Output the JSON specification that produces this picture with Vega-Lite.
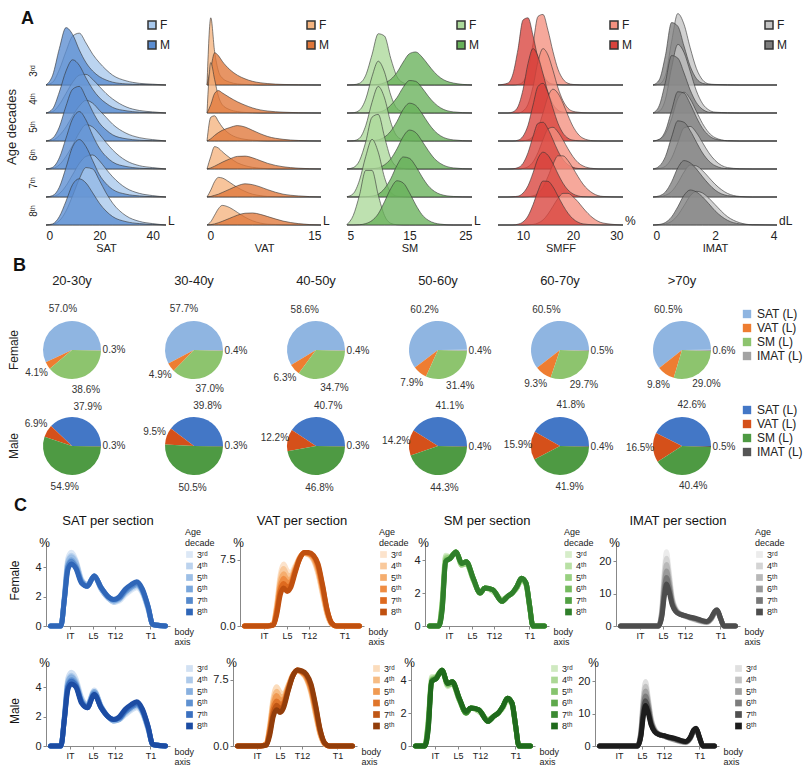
{
"$schema": "https://vega.github.io/schema/vega-lite/v6.json",
"background": "white",
"padding": {"left": 5, "right": 2, "top": 10, "bottom": 0},
"spacing": 4,
"align": "none",
"resolve": {"scale": {"color": "independent", "stroke": "independent", "x": "independent", "y": "independent"}, "legend": {"color": "independent"}},
"config": {
  "font": "Liberation Sans",
  "view": {"stroke": null},
  "axis": {"grid": false, "labelColor": "#222", "titleColor": "#222", "domainColor": "#888", "tickColor": "#888"},
  "axisY": {"labelOverlap": false},
  "header": {"labelColor": "#222", "titleColor": "#222", "labelFont": "Liberation Sans", "titleFont": "Liberation Sans"},
  "legend": {"labelColor": "#222", "titleColor": "#222", "labelFont": "Liberation Sans", "titleFont": "Liberation Sans"},
  "title": {"color": "#111", "font": "Liberation Sans"}
},
"datasets": {
"ridge": [
{"v":"SAT","a":"3ʳᵈ","s":"F","x":[0,2.5,5,7.5,10,12.5,15,17.5,20,22.5,25,30,35,40,45],"y":[0,0.1,0.55,1.2,1.75,1.85,1.5,1.1,0.8,0.55,0.35,0.15,0.06,0.03,0]},
{"v":"SAT","a":"3ʳᵈ","s":"M","x":[0,2.5,5,7.5,10,12.5,15,17.5,20,22.5,25,30,35,40,45],"y":[0,0.35,1.3,2.05,1.8,1.25,0.8,0.5,0.3,0.18,0.1,0.04,0.02,0.01,0]},
{"v":"SAT","a":"4ᵗʰ","s":"F","x":[0,2.5,5,7.5,10,12.5,15,17.5,20,22.5,25,30,35,40,45],"y":[0,0.05,0.3,0.7,1.1,1.35,1.38,1.2,0.95,0.7,0.5,0.22,0.09,0.04,0]},
{"v":"SAT","a":"4ᵗʰ","s":"M","x":[0,2.5,5,7.5,10,12.5,15,17.5,20,22.5,25,30,35,40,45],"y":[0,0.15,0.75,1.5,1.9,1.7,1.25,0.85,0.55,0.35,0.2,0.08,0.03,0.01,0]},
{"v":"SAT","a":"5ᵗʰ","s":"F","x":[0,2.5,5,7.5,10,12.5,15,17.5,20,22.5,25,30,35,40,45],"y":[0,0.03,0.2,0.5,0.9,1.25,1.45,1.35,1.1,0.85,0.6,0.28,0.12,0.05,0]},
{"v":"SAT","a":"5ᵗʰ","s":"M","x":[0,2.5,5,7.5,10,12.5,15,17.5,20,22.5,25,30,35,40,45],"y":[0,0.1,0.5,1.25,1.85,1.95,1.55,1.05,0.65,0.4,0.22,0.08,0.03,0.01,0]},
{"v":"SAT","a":"6ᵗʰ","s":"F","x":[0,2.5,5,7.5,10,12.5,15,17.5,20,22.5,25,30,35,40,45],"y":[0,0.02,0.15,0.45,0.85,1.3,1.58,1.5,1.25,0.95,0.68,0.3,0.12,0.05,0]},
{"v":"SAT","a":"6ᵗʰ","s":"M","x":[0,2.5,5,7.5,10,12.5,15,17.5,20,22.5,25,30,35,40,45],"y":[0,0.06,0.4,1.1,1.8,2.05,1.75,1.2,0.75,0.45,0.25,0.09,0.03,0.01,0]},
{"v":"SAT","a":"7ᵗʰ","s":"F","x":[0,2.5,5,7.5,10,12.5,15,17.5,20,22.5,25,30,35,40,45],"y":[0,0.02,0.12,0.4,0.8,1.2,1.45,1.5,1.3,1.0,0.72,0.32,0.13,0.05,0]},
{"v":"SAT","a":"7ᵗʰ","s":"M","x":[0,2.5,5,7.5,10,12.5,15,17.5,20,22.5,25,30,35,40,45],"y":[0,0.05,0.35,1.05,1.8,2.05,1.8,1.3,0.8,0.48,0.27,0.1,0.04,0.01,0]},
{"v":"SAT","a":"8ᵗʰ","s":"F","x":[0,2.5,5,7.5,10,12.5,15,17.5,20,22.5,25,30,35,40,45],"y":[0,0.02,0.15,0.5,1.05,1.65,2.05,2.0,1.6,1.15,0.78,0.33,0.13,0.05,0]},
{"v":"SAT","a":"8ᵗʰ","s":"M","x":[0,2.5,5,7.5,10,12.5,15,17.5,20,22.5,25,30,35,40,45],"y":[0,0.04,0.3,0.85,1.45,1.65,1.5,1.15,0.78,0.5,0.3,0.12,0.05,0.02,0]},
{"v":"VAT","a":"3ʳᵈ","s":"F","x":[0,0.5,1,1.5,2,3,4,5,6,7,8,10,12,15],"y":[0,2.4,1.2,0.5,0.25,0.1,0.04,0.02,0.01,0,0,0,0,0]},
{"v":"VAT","a":"3ʳᵈ","s":"M","x":[0,0.5,1,1.5,2,3,4,5,6,7,8,10,12,15],"y":[0,0.6,1.15,1.05,0.85,0.55,0.35,0.22,0.13,0.08,0.05,0.02,0.01,0]},
{"v":"VAT","a":"4ᵗʰ","s":"F","x":[0,0.5,1,1.5,2,3,4,5,6,7,8,10,12,15],"y":[0,1.8,1.2,0.6,0.3,0.12,0.05,0.02,0.01,0,0,0,0,0]},
{"v":"VAT","a":"4ᵗʰ","s":"M","x":[0,0.5,1,1.5,2,3,4,5,6,7,8,10,12,15],"y":[0,0.3,0.7,0.8,0.72,0.55,0.4,0.28,0.18,0.11,0.07,0.03,0.01,0]},
{"v":"VAT","a":"5ᵗʰ","s":"F","x":[0,0.5,1,1.5,2,3,4,5,6,7,8,10,12,15],"y":[0,0.85,0.9,0.7,0.5,0.25,0.12,0.06,0.03,0.01,0,0,0,0]},
{"v":"VAT","a":"5ᵗʰ","s":"M","x":[0,0.5,1,1.5,2,3,4,5,6,7,8,10,12,15],"y":[0,0.08,0.2,0.3,0.38,0.48,0.55,0.5,0.38,0.26,0.16,0.06,0.02,0]},
{"v":"VAT","a":"6ᵗʰ","s":"F","x":[0,0.5,1,1.5,2,3,4,5,6,7,8,10,12,15],"y":[0,0.45,0.8,0.75,0.62,0.4,0.22,0.12,0.06,0.03,0.01,0,0,0]},
{"v":"VAT","a":"6ᵗʰ","s":"M","x":[0,0.5,1,1.5,2,3,4,5,6,7,8,10,12,15],"y":[0,0.04,0.1,0.17,0.24,0.36,0.45,0.46,0.4,0.3,0.2,0.08,0.03,0]},
{"v":"VAT","a":"7ᵗʰ","s":"F","x":[0,0.5,1,1.5,2,3,4,5,6,7,8,10,12,15],"y":[0,0.25,0.55,0.7,0.68,0.52,0.34,0.2,0.1,0.05,0.02,0.01,0,0]},
{"v":"VAT","a":"7ᵗʰ","s":"M","x":[0,0.5,1,1.5,2,3,4,5,6,7,8,10,12,15],"y":[0,0.02,0.06,0.1,0.16,0.28,0.4,0.47,0.44,0.36,0.26,0.1,0.04,0]},
{"v":"VAT","a":"8ᵗʰ","s":"F","x":[0,0.5,1,1.5,2,3,4,5,6,7,8,10,12,15],"y":[0,0.12,0.35,0.58,0.7,0.62,0.45,0.28,0.15,0.07,0.03,0.01,0,0]},
{"v":"VAT","a":"8ᵗʰ","s":"M","x":[0,0.5,1,1.5,2,3,4,5,6,7,8,10,12,15],"y":[0,0.01,0.04,0.08,0.13,0.24,0.35,0.42,0.43,0.38,0.3,0.14,0.05,0]},
{"v":"SM","a":"3ʳᵈ","s":"F","x":[5,6,7,8,9,10,11,12,13,14,15,16,17,18,19,20,22,25],"y":[0,0.01,0.06,0.35,1.08,1.83,1.75,0.95,0.3,0.08,0.02,0.01,0,0,0,0,0,0]},
{"v":"SM","a":"3ʳᵈ","s":"M","x":[5,6,7,8,9,10,11,12,13,14,15,16,17,18,19,20,22,25],"y":[0,0,0,0,0.01,0.02,0.08,0.2,0.45,0.82,1.12,1.18,1.0,0.72,0.45,0.25,0.07,0]},
{"v":"SM","a":"4ᵗʰ","s":"F","x":[5,6,7,8,9,10,11,12,13,14,15,16,17,18,19,20,22,25],"y":[0,0.01,0.1,0.5,1.3,1.85,1.46,0.64,0.16,0.04,0.01,0,0,0,0,0,0,0]},
{"v":"SM","a":"4ᵗʰ","s":"M","x":[5,6,7,8,9,10,11,12,13,14,15,16,17,18,19,20,22,25],"y":[0,0,0,0,0.01,0.03,0.1,0.28,0.55,0.92,1.16,1.13,0.9,0.6,0.35,0.18,0.04,0]},
{"v":"SM","a":"5ᵗʰ","s":"F","x":[5,6,7,8,9,10,11,12,13,14,15,16,17,18,19,20,22,25],"y":[0,0.01,0.1,0.55,1.38,1.95,1.54,0.67,0.17,0.04,0.01,0,0,0,0,0,0,0]},
{"v":"SM","a":"5ᵗʰ","s":"M","x":[5,6,7,8,9,10,11,12,13,14,15,16,17,18,19,20,22,25],"y":[0,0,0,0,0.01,0.04,0.14,0.35,0.7,1.13,1.35,1.27,0.98,0.64,0.36,0.18,0.04,0]},
{"v":"SM","a":"6ᵗʰ","s":"F","x":[5,6,7,8,9,10,11,12,13,14,15,16,17,18,19,20,22,25],"y":[0,0.05,0.3,0.97,1.85,1.95,1.15,0.38,0.08,0.02,0,0,0,0,0,0,0,0]},
{"v":"SM","a":"6ᵗʰ","s":"M","x":[5,6,7,8,9,10,11,12,13,14,15,16,17,18,19,20,22,25],"y":[0,0,0,0,0.01,0.04,0.15,0.36,0.72,1.16,1.39,1.3,1.0,0.66,0.37,0.19,0.04,0]},
{"v":"SM","a":"7ᵗʰ","s":"F","x":[5,6,7,8,9,10,11,12,13,14,15,16,17,18,19,20,22,25],"y":[0.01,0.12,0.6,1.45,2.06,1.6,0.7,0.17,0.03,0.01,0,0,0,0,0,0,0,0]},
{"v":"SM","a":"7ᵗʰ","s":"M","x":[5,6,7,8,9,10,11,12,13,14,15,16,17,18,19,20,22,25],"y":[0,0,0,0.01,0.03,0.1,0.3,0.65,1.13,1.43,1.38,1.1,0.72,0.4,0.2,0.09,0.02,0]},
{"v":"SM","a":"8ᵗʰ","s":"F","x":[5,6,7,8,9,10,11,12,13,14,15,16,17,18,19,20,22,25],"y":[0.02,0.34,1.07,1.95,1.95,1.07,0.34,0.06,0.01,0,0,0,0,0,0,0,0,0]},
{"v":"SM","a":"8ᵗʰ","s":"M","x":[5,6,7,8,9,10,11,12,13,14,15,16,17,18,19,20,22,25],"y":[0,0,0.01,0.05,0.16,0.4,0.83,1.3,1.58,1.5,1.15,0.72,0.37,0.17,0.07,0.03,0,0]},
{"v":"SMFF","a":"3ʳᵈ","s":"F","x":[5,7,8,9,10,11,12,13,14,15,16,17,18,19,20,21,22,24,26,30],"y":[0,0,0,0.02,0.11,0.53,1.46,2.45,2.52,1.95,1.19,0.56,0.21,0.06,0.02,0.01,0,0,0,0]},
{"v":"SMFF","a":"3ʳᵈ","s":"M","x":[5,7,8,9,10,11,12,13,14,15,16,17,18,19,20,21,22,24,26,30],"y":[0,0.07,0.4,1.28,2.32,2.4,1.77,0.95,0.38,0.11,0.03,0.01,0,0,0,0,0,0,0,0]},
{"v":"SMFF","a":"4ᵗʰ","s":"F","x":[5,7,8,9,10,11,12,13,14,15,16,17,18,19,20,21,22,24,26,30],"y":[0,0,0,0,0.07,0.31,0.94,1.84,2.3,2.07,1.52,0.9,0.44,0.17,0.06,0.03,0.01,0,0,0]},
{"v":"SMFF","a":"4ᵗʰ","s":"M","x":[5,7,8,9,10,11,12,13,14,15,16,17,18,19,20,21,22,24,26,30],"y":[0,0,0.04,0.23,0.83,1.77,2.3,2.02,1.4,0.74,0.31,0.1,0.03,0.01,0,0,0,0,0,0]},
{"v":"SMFF","a":"5ᵗʰ","s":"F","x":[5,7,8,9,10,11,12,13,14,15,16,17,18,19,20,21,22,24,26,30],"y":[0,0,0,0,0.01,0.04,0.16,0.46,1.0,1.59,1.85,1.7,1.35,0.91,0.52,0.25,0.1,0.01,0,0]},
{"v":"SMFF","a":"5ᵗʰ","s":"M","x":[5,7,8,9,10,11,12,13,14,15,16,17,18,19,20,21,22,24,26,30],"y":[0,0,0,0.03,0.17,0.56,1.28,1.95,2.06,1.72,1.16,0.63,0.28,0.1,0.03,0.01,0,0,0,0]},
{"v":"SMFF","a":"6ᵗʰ","s":"F","x":[5,7,8,9,10,11,12,13,14,15,16,17,18,19,20,21,22,24,26,30],"y":[0,0,0,0,0.02,0.08,0.25,0.59,1.05,1.43,1.49,1.32,1.04,0.72,0.44,0.23,0.11,0.02,0,0]},
{"v":"SMFF","a":"6ᵗʰ","s":"M","x":[5,7,8,9,10,11,12,13,14,15,16,17,18,19,20,21,22,24,26,30],"y":[0,0,0.01,0.05,0.2,0.58,1.16,1.63,1.67,1.43,1.04,0.64,0.34,0.15,0.06,0.02,0.01,0,0,0]},
{"v":"SMFF","a":"7ᵗʰ","s":"F","x":[5,7,8,9,10,11,12,13,14,15,16,17,18,19,20,21,22,24,26,30],"y":[0,0,0,0,0,0.01,0.04,0.13,0.35,0.73,1.17,1.47,1.47,1.3,1.03,0.73,0.46,0.13,0.02,0]},
{"v":"SMFF","a":"7ᵗʰ","s":"M","x":[5,7,8,9,10,11,12,13,14,15,16,17,18,19,20,21,22,24,26,30],"y":[0,0,0.01,0.03,0.14,0.4,0.86,1.38,1.6,1.49,1.19,0.82,0.49,0.25,0.11,0.04,0.01,0,0,0]},
{"v":"SMFF","a":"8ᵗʰ","s":"F","x":[5,7,8,9,10,11,12,13,14,15,16,17,18,19,20,21,22,24,26,30],"y":[0,0,0,0,0,0.01,0.02,0.07,0.18,0.39,0.67,0.95,1.13,1.13,1.01,0.83,0.61,0.25,0.07,0]},
{"v":"SMFF","a":"8ᵗʰ","s":"M","x":[5,7,8,9,10,11,12,13,14,15,16,17,18,19,20,21,22,24,26,30],"y":[0,0,0,0.03,0.11,0.32,0.72,1.22,1.57,1.56,1.36,1.03,0.7,0.42,0.22,0.1,0.04,0.01,0,0]},
{"v":"IMAT","a":"3ʳᵈ","s":"F","x":[0,0.2,0.4,0.6,0.8,1,1.2,1.4,1.6,1.8,2,2.4,2.8,3.2,4],"y":[0,0.03,0.34,1.55,2.55,2.17,1.33,0.59,0.18,0.04,0.02,0.01,0,0,0]},
{"v":"IMAT","a":"3ʳᵈ","s":"M","x":[0,0.2,0.4,0.6,0.8,1,1.2,1.4,1.6,1.8,2,2.4,2.8,3.2,4],"y":[0,0.18,1.05,2.23,2.1,1.39,0.67,0.23,0.06,0.02,0.01,0,0,0,0]},
{"v":"IMAT","a":"4ᵗʰ","s":"F","x":[0,0.2,0.4,0.6,0.8,1,1.2,1.4,1.6,1.8,2,2.4,2.8,3.2,4],"y":[0,0.06,0.49,1.62,2.45,2.16,1.49,0.79,0.33,0.11,0.03,0.01,0,0,0]},
{"v":"IMAT","a":"4ᵗʰ","s":"M","x":[0,0.2,0.4,0.6,0.8,1,1.2,1.4,1.6,1.8,2,2.4,2.8,3.2,4],"y":[0,0.26,1.1,2.05,1.96,1.43,0.82,0.37,0.13,0.03,0.01,0,0,0,0]},
{"v":"IMAT","a":"5ᵗʰ","s":"F","x":[0,0.2,0.4,0.6,0.8,1,1.2,1.4,1.6,1.8,2,2.4,2.8,3.2,4],"y":[0,0.05,0.26,0.8,1.51,1.74,1.5,1.06,0.62,0.3,0.12,0.01,0,0,0]},
{"v":"IMAT","a":"5ᵗʰ","s":"M","x":[0,0.2,0.4,0.6,0.8,1,1.2,1.4,1.6,1.8,2,2.4,2.8,3.2,4],"y":[0,0.06,0.36,1.09,1.76,1.71,1.33,0.85,0.45,0.2,0.07,0.01,0,0,0]},
{"v":"IMAT","a":"6ᵗʰ","s":"F","x":[0,0.2,0.4,0.6,0.8,1,1.2,1.4,1.6,1.8,2,2.4,2.8,3.2,4],"y":[0,0.02,0.1,0.39,0.94,1.47,1.52,1.3,0.94,0.58,0.31,0.05,0.01,0,0]},
{"v":"IMAT","a":"6ᵗʰ","s":"M","x":[0,0.2,0.4,0.6,0.8,1,1.2,1.4,1.6,1.8,2,2.4,2.8,3.2,4],"y":[0,0.1,0.44,1.14,1.72,1.67,1.37,0.96,0.57,0.29,0.12,0.01,0,0,0]},
{"v":"IMAT","a":"7ᵗʰ","s":"F","x":[0,0.2,0.4,0.6,0.8,1,1.2,1.4,1.6,1.8,2,2.4,2.8,3.2,4],"y":[0,0.01,0.06,0.2,0.5,0.89,1.14,1.11,0.94,0.7,0.46,0.13,0.02,0,0]},
{"v":"IMAT","a":"7ᵗʰ","s":"M","x":[0,0.2,0.4,0.6,0.8,1,1.2,1.4,1.6,1.8,2,2.4,2.8,3.2,4],"y":[0,0.04,0.18,0.54,1.04,1.3,1.22,1.0,0.72,0.46,0.25,0.05,0.01,0,0]},
{"v":"IMAT","a":"8ᵗʰ","s":"F","x":[0,0.2,0.4,0.6,0.8,1,1.2,1.4,1.6,1.8,2,2.4,2.8,3.2,4],"y":[0,0.01,0.04,0.13,0.35,0.69,1.04,1.2,1.14,0.96,0.73,0.3,0.08,0.01,0]},
{"v":"IMAT","a":"8ᵗʰ","s":"M","x":[0,0.2,0.4,0.6,0.8,1,1.2,1.4,1.6,1.8,2,2.4,2.8,3.2,4],"y":[0,0.02,0.09,0.29,0.65,1.06,1.25,1.18,1.0,0.76,0.51,0.17,0.04,0.01,0]}
],
"pie": [
{"s":"Female","g":"20-30y","c":"SAT (L)","k":4,"p":0.570},{"s":"Female","g":"20-30y","c":"VAT (L)","k":3,"p":0.041},{"s":"Female","g":"20-30y","c":"SM (L)","k":2,"p":0.386},{"s":"Female","g":"20-30y","c":"IMAT (L)","k":1,"p":0.003},
{"s":"Female","g":"30-40y","c":"SAT (L)","k":4,"p":0.577},{"s":"Female","g":"30-40y","c":"VAT (L)","k":3,"p":0.049},{"s":"Female","g":"30-40y","c":"SM (L)","k":2,"p":0.370},{"s":"Female","g":"30-40y","c":"IMAT (L)","k":1,"p":0.004},
{"s":"Female","g":"40-50y","c":"SAT (L)","k":4,"p":0.586},{"s":"Female","g":"40-50y","c":"VAT (L)","k":3,"p":0.063},{"s":"Female","g":"40-50y","c":"SM (L)","k":2,"p":0.347},{"s":"Female","g":"40-50y","c":"IMAT (L)","k":1,"p":0.004},
{"s":"Female","g":"50-60y","c":"SAT (L)","k":4,"p":0.602},{"s":"Female","g":"50-60y","c":"VAT (L)","k":3,"p":0.079},{"s":"Female","g":"50-60y","c":"SM (L)","k":2,"p":0.314},{"s":"Female","g":"50-60y","c":"IMAT (L)","k":1,"p":0.004},
{"s":"Female","g":"60-70y","c":"SAT (L)","k":4,"p":0.605},{"s":"Female","g":"60-70y","c":"VAT (L)","k":3,"p":0.093},{"s":"Female","g":"60-70y","c":"SM (L)","k":2,"p":0.297},{"s":"Female","g":"60-70y","c":"IMAT (L)","k":1,"p":0.005},
{"s":"Female","g":">70y","c":"SAT (L)","k":4,"p":0.605},{"s":"Female","g":">70y","c":"VAT (L)","k":3,"p":0.098},{"s":"Female","g":">70y","c":"SM (L)","k":2,"p":0.290},{"s":"Female","g":">70y","c":"IMAT (L)","k":1,"p":0.006},
{"s":"Male","g":"20-30y","c":"SAT (L)","k":4,"p":0.379},{"s":"Male","g":"20-30y","c":"VAT (L)","k":3,"p":0.069},{"s":"Male","g":"20-30y","c":"SM (L)","k":2,"p":0.549},{"s":"Male","g":"20-30y","c":"IMAT (L)","k":1,"p":0.003},
{"s":"Male","g":"30-40y","c":"SAT (L)","k":4,"p":0.398},{"s":"Male","g":"30-40y","c":"VAT (L)","k":3,"p":0.095},{"s":"Male","g":"30-40y","c":"SM (L)","k":2,"p":0.505},{"s":"Male","g":"30-40y","c":"IMAT (L)","k":1,"p":0.003},
{"s":"Male","g":"40-50y","c":"SAT (L)","k":4,"p":0.407},{"s":"Male","g":"40-50y","c":"VAT (L)","k":3,"p":0.122},{"s":"Male","g":"40-50y","c":"SM (L)","k":2,"p":0.468},{"s":"Male","g":"40-50y","c":"IMAT (L)","k":1,"p":0.003},
{"s":"Male","g":"50-60y","c":"SAT (L)","k":4,"p":0.411},{"s":"Male","g":"50-60y","c":"VAT (L)","k":3,"p":0.142},{"s":"Male","g":"50-60y","c":"SM (L)","k":2,"p":0.443},{"s":"Male","g":"50-60y","c":"IMAT (L)","k":1,"p":0.004},
{"s":"Male","g":"60-70y","c":"SAT (L)","k":4,"p":0.418},{"s":"Male","g":"60-70y","c":"VAT (L)","k":3,"p":0.159},{"s":"Male","g":"60-70y","c":"SM (L)","k":2,"p":0.419},{"s":"Male","g":"60-70y","c":"IMAT (L)","k":1,"p":0.004},
{"s":"Male","g":">70y","c":"SAT (L)","k":4,"p":0.426},{"s":"Male","g":">70y","c":"VAT (L)","k":3,"p":0.165},{"s":"Male","g":">70y","c":"SM (L)","k":2,"p":0.404},{"s":"Male","g":">70y","c":"IMAT (L)","k":1,"p":0.005}
],
"sect": [
{"v":"SAT","s":"F","a":"3ʳᵈ","x":[0,9,12,15,18,22,27,32,38,44,50,55,60,65,70,75,80,85,89,100],"y":[0,0,2.0,4.6,5.0,4.5,3.2,2.8,3.4,2.5,1.9,1.6,1.7,2.1,2.4,2.6,2.2,1.1,0.1,0]},
{"v":"SAT","s":"F","a":"4ᵗʰ","x":[0,9,12,15,18,22,27,32,38,44,50,55,60,65,70,75,80,85,89,100],"y":[0,0,2.0,4.4,4.8,4.4,3.1,2.8,3.4,2.5,1.9,1.6,1.8,2.2,2.5,2.7,2.3,1.1,0.1,0]},
{"v":"SAT","s":"F","a":"5ᵗʰ","x":[0,9,12,15,18,22,27,32,38,44,50,55,60,65,70,75,80,85,89,100],"y":[0,0,1.9,4.3,4.7,4.3,3.1,2.8,3.4,2.5,1.9,1.7,1.8,2.3,2.6,2.8,2.3,1.2,0.1,0]},
{"v":"SAT","s":"F","a":"6ᵗʰ","x":[0,9,12,15,18,22,27,32,38,44,50,55,60,65,70,75,80,85,89,100],"y":[0,0,1.9,4.1,4.5,4.1,3.0,2.7,3.4,2.6,2.0,1.7,1.9,2.3,2.6,2.8,2.4,1.2,0.1,0]},
{"v":"SAT","s":"F","a":"7ᵗʰ","x":[0,9,12,15,18,22,27,32,38,44,50,55,60,65,70,75,80,85,89,100],"y":[0,0,1.8,4.0,4.4,4.0,3.0,2.7,3.4,2.6,2.0,1.8,1.9,2.4,2.7,2.9,2.4,1.3,0.1,0]},
{"v":"SAT","s":"F","a":"8ᵗʰ","x":[0,9,12,15,18,22,27,32,38,44,50,55,60,65,70,75,80,85,89,100],"y":[0,0,1.8,3.8,4.2,3.9,2.9,2.7,3.4,2.6,2.0,1.8,2.0,2.5,2.8,3.0,2.5,1.3,0.1,0]},
{"v":"SAT","s":"M","a":"3ʳᵈ","x":[0,9,12,15,18,22,27,32,38,44,50,55,60,65,70,75,80,85,89,100],"y":[0,0,2.0,4.6,5.0,4.6,3.3,2.8,3.8,2.7,2.0,1.7,1.8,2.1,2.4,2.6,2.2,1.1,0.1,0]},
{"v":"SAT","s":"M","a":"4ᵗʰ","x":[0,9,12,15,18,22,27,32,38,44,50,55,60,65,70,75,80,85,89,100],"y":[0,0,2.0,4.4,4.8,4.4,3.2,2.8,3.7,2.7,2.0,1.7,1.8,2.2,2.5,2.7,2.3,1.1,0.1,0]},
{"v":"SAT","s":"M","a":"5ᵗʰ","x":[0,9,12,15,18,22,27,32,38,44,50,55,60,65,70,75,80,85,89,100],"y":[0,0,1.9,4.3,4.7,4.3,3.1,2.7,3.7,2.7,2.0,1.7,1.8,2.3,2.6,2.8,2.3,1.2,0.1,0]},
{"v":"SAT","s":"M","a":"6ᵗʰ","x":[0,9,12,15,18,22,27,32,38,44,50,55,60,65,70,75,80,85,89,100],"y":[0,0,1.9,4.1,4.5,4.2,3.0,2.7,3.6,2.6,2.0,1.8,1.9,2.3,2.6,2.8,2.4,1.2,0.1,0]},
{"v":"SAT","s":"M","a":"7ᵗʰ","x":[0,9,12,15,18,22,27,32,38,44,50,55,60,65,70,75,80,85,89,100],"y":[0,0,1.8,4.0,4.4,4.1,3.0,2.6,3.5,2.6,2.0,1.8,1.9,2.4,2.7,2.9,2.4,1.3,0.1,0]},
{"v":"SAT","s":"M","a":"8ᵗʰ","x":[0,9,12,15,18,22,27,32,38,44,50,55,60,65,70,75,80,85,89,100],"y":[0,0,1.8,3.8,4.2,4.0,2.9,2.6,3.5,2.6,2.0,1.8,2.0,2.5,2.8,3.0,2.5,1.3,0.1,0]},
{"v":"VAT","s":"F","a":"3ʳᵈ","x":[0,20,25,28,31,34,37,40,44,48,52,56,60,64,68,72,76,80,100],"y":[0,0,0.3,2.6,5.8,7.0,6.3,6.0,6.8,7.8,8.2,8.0,7.4,5.8,3.4,1.2,0.2,0,0]},
{"v":"VAT","s":"F","a":"4ᵗʰ","x":[0,20,25,28,31,34,37,40,44,48,52,56,60,64,68,72,76,80,100],"y":[0,0,0.3,2.3,5.3,6.5,5.8,5.7,6.6,7.8,8.2,8.1,7.5,6.0,3.6,1.3,0.2,0,0]},
{"v":"VAT","s":"F","a":"5ᵗʰ","x":[0,20,25,28,31,34,37,40,44,48,52,56,60,64,68,72,76,80,100],"y":[0,0,0.2,2.1,4.9,5.9,5.3,5.3,6.5,7.7,8.2,8.1,7.6,6.3,3.9,1.4,0.2,0,0]},
{"v":"VAT","s":"F","a":"6ᵗʰ","x":[0,20,25,28,31,34,37,40,44,48,52,56,60,64,68,72,76,80,100],"y":[0,0,0.2,1.8,4.4,5.4,4.9,5.0,6.3,7.7,8.3,8.2,7.8,6.5,4.1,1.6,0.3,0,0]},
{"v":"VAT","s":"F","a":"7ᵗʰ","x":[0,20,25,28,31,34,37,40,44,48,52,56,60,64,68,72,76,80,100],"y":[0,0,0.1,1.6,4.0,4.8,4.4,4.6,6.2,7.6,8.3,8.2,7.9,6.8,4.4,1.7,0.3,0,0]},
{"v":"VAT","s":"F","a":"8ᵗʰ","x":[0,20,25,28,31,34,37,40,44,48,52,56,60,64,68,72,76,80,100],"y":[0,0,0.1,1.3,3.5,4.3,3.9,4.3,6.0,7.6,8.3,8.3,8.0,7.0,4.6,1.8,0.3,0,0]},
{"v":"VAT","s":"M","a":"3ʳᵈ","x":[0,20,25,28,31,34,37,40,44,48,52,56,60,64,68,72,76,80,100],"y":[0,0,0.3,2.5,5.5,6.7,6.1,5.9,6.9,8.1,8.5,8.2,7.5,5.9,3.4,1.2,0.2,0,0]},
{"v":"VAT","s":"M","a":"4ᵗʰ","x":[0,20,25,28,31,34,37,40,44,48,52,56,60,64,68,72,76,80,100],"y":[0,0,0.3,2.2,5.1,6.2,5.6,5.6,6.8,8.0,8.5,8.3,7.6,6.1,3.6,1.3,0.2,0,0]},
{"v":"VAT","s":"M","a":"5ᵗʰ","x":[0,20,25,28,31,34,37,40,44,48,52,56,60,64,68,72,76,80,100],"y":[0,0,0.2,2.0,4.6,5.7,5.2,5.3,6.6,8.0,8.5,8.3,7.7,6.3,3.9,1.4,0.2,0,0]},
{"v":"VAT","s":"M","a":"6ᵗʰ","x":[0,20,25,28,31,34,37,40,44,48,52,56,60,64,68,72,76,80,100],"y":[0,0,0.2,1.7,4.2,5.1,4.7,4.9,6.5,7.9,8.6,8.4,7.9,6.6,4.1,1.6,0.3,0,0]},
{"v":"VAT","s":"M","a":"7ᵗʰ","x":[0,20,25,28,31,34,37,40,44,48,52,56,60,64,68,72,76,80,100],"y":[0,0,0.1,1.5,3.7,4.6,4.2,4.6,6.3,7.9,8.6,8.4,8.0,6.8,4.4,1.7,0.3,0,0]},
{"v":"VAT","s":"M","a":"8ᵗʰ","x":[0,20,25,28,31,34,37,40,44,48,52,56,60,64,68,72,76,80,100],"y":[0,0,0.1,1.2,3.3,4.1,3.8,4.3,6.2,7.9,8.6,8.5,8.1,7.0,4.6,1.8,0.3,0,0]},
{"v":"SM","s":"F","a":"3ʳᵈ","x":[0,8,11,14,18,23,28,32,38,44,48,55,63,68,72,76,80,84,87,90,100],"y":[0,0,1.6,4.3,4.2,4.5,3.7,3.8,2.8,2.0,2.3,2.1,1.6,1.8,2.0,2.3,2.8,2.5,1.2,0,0]},
{"v":"SM","s":"F","a":"4ᵗʰ","x":[0,8,11,14,18,23,28,32,38,44,48,55,63,68,72,76,80,84,87,90,100],"y":[0,0,1.5,4.2,4.2,4.5,3.7,3.8,2.8,2.0,2.3,2.1,1.6,1.8,2.0,2.3,2.8,2.5,1.2,0,0]},
{"v":"SM","s":"F","a":"5ᵗʰ","x":[0,8,11,14,18,23,28,32,38,44,48,55,63,68,72,76,80,84,87,90,100],"y":[0,0,1.4,4.1,4.2,4.5,3.7,3.8,2.8,2.0,2.3,2.2,1.6,1.8,2.0,2.3,2.8,2.5,1.2,0,0]},
{"v":"SM","s":"F","a":"6ᵗʰ","x":[0,8,11,14,18,23,28,32,38,44,48,55,63,68,72,76,80,84,87,90,100],"y":[0,0,1.3,4.0,4.1,4.5,3.8,3.9,2.9,2.0,2.3,2.2,1.5,1.8,2.0,2.4,2.9,2.6,1.3,0,0]},
{"v":"SM","s":"F","a":"7ᵗʰ","x":[0,8,11,14,18,23,28,32,38,44,48,55,63,68,72,76,80,84,87,90,100],"y":[0,0,1.1,3.9,4.1,4.5,3.8,3.9,2.9,2.0,2.3,2.2,1.5,1.8,2.0,2.4,2.9,2.6,1.3,0,0]},
{"v":"SM","s":"F","a":"8ᵗʰ","x":[0,8,11,14,18,23,28,32,38,44,48,55,63,68,72,76,80,84,87,90,100],"y":[0,0,1.0,3.9,4.1,4.5,3.8,3.9,2.9,2.0,2.3,2.2,1.5,1.8,2.0,2.4,2.9,2.6,1.3,0,0]},
{"v":"SM","s":"M","a":"3ʳᵈ","x":[0,8,11,14,18,23,28,32,38,44,48,55,63,68,72,76,80,84,87,90,100],"y":[0,0,1.6,4.2,4.2,4.6,3.6,3.8,2.8,2.0,2.3,2.1,1.6,1.8,2.0,2.3,2.8,2.5,1.2,0,0]},
{"v":"SM","s":"M","a":"4ᵗʰ","x":[0,8,11,14,18,23,28,32,38,44,48,55,63,68,72,76,80,84,87,90,100],"y":[0,0,1.5,4.1,4.2,4.6,3.7,3.8,2.8,2.0,2.3,2.1,1.6,1.8,2.0,2.3,2.8,2.5,1.2,0,0]},
{"v":"SM","s":"M","a":"5ᵗʰ","x":[0,8,11,14,18,23,28,32,38,44,48,55,63,68,72,76,80,84,87,90,100],"y":[0,0,1.4,4.0,4.2,4.6,3.7,3.8,2.8,2.0,2.3,2.2,1.6,1.8,2.0,2.4,2.9,2.6,1.3,0,0]},
{"v":"SM","s":"M","a":"6ᵗʰ","x":[0,8,11,14,18,23,28,32,38,44,48,55,63,68,72,76,80,84,87,90,100],"y":[0,0,1.3,4.0,4.1,4.6,3.8,3.9,2.9,2.0,2.3,2.2,1.5,1.8,2.0,2.4,2.9,2.6,1.3,0,0]},
{"v":"SM","s":"M","a":"7ᵗʰ","x":[0,8,11,14,18,23,28,32,38,44,48,55,63,68,72,76,80,84,87,90,100],"y":[0,0,1.1,3.9,4.1,4.6,3.8,3.9,2.9,2.0,2.3,2.2,1.5,1.8,2.0,2.4,2.9,2.6,1.3,0,0]},
{"v":"SM","s":"M","a":"8ᵗʰ","x":[0,8,11,14,18,23,28,32,38,44,48,55,63,68,72,76,80,84,87,90,100],"y":[0,0,1.0,3.9,4.1,4.6,3.8,3.9,2.9,2.1,2.3,2.2,1.5,1.8,2.0,2.4,2.9,2.6,1.3,0,0]},
{"v":"IMAT","s":"F","a":"3ʳᵈ","x":[0,33,36,38,40,42,45,48,52,56,60,65,70,75,79,82,84,87,90,100],"y":[0,0,6,17,23,18,9,5.5,3.8,3.0,2.4,1.8,1.3,1.0,2.0,3.8,4.5,2.2,0,0]},
{"v":"IMAT","s":"F","a":"4ᵗʰ","x":[0,33,36,38,40,42,45,48,52,56,60,65,70,75,79,82,84,87,90,100],"y":[0,0,5.4,15.4,21,16.6,8.5,5.3,3.8,3.0,2.5,1.9,1.4,1.1,2.1,4.0,4.6,2.3,0,0]},
{"v":"IMAT","s":"F","a":"5ᵗʰ","x":[0,33,36,38,40,42,45,48,52,56,60,65,70,75,79,82,84,87,90,100],"y":[0,0,4.8,13.8,19,15.2,8.0,5.1,3.7,3.1,2.6,2.0,1.5,1.2,2.2,4.1,4.7,2.3,0,0]},
{"v":"IMAT","s":"F","a":"6ᵗʰ","x":[0,33,36,38,40,42,45,48,52,56,60,65,70,75,79,82,84,87,90,100],"y":[0,0,4.2,12.2,17,13.8,7.5,4.9,3.7,3.1,2.6,2.1,1.6,1.2,2.3,4.2,4.8,2.4,0,0]},
{"v":"IMAT","s":"F","a":"7ᵗʰ","x":[0,33,36,38,40,42,45,48,52,56,60,65,70,75,79,82,84,87,90,100],"y":[0,0,3.6,10.6,15,12.4,7.0,4.7,3.6,3.2,2.7,2.3,1.7,1.3,2.5,4.4,4.9,2.4,0,0]},
{"v":"IMAT","s":"F","a":"8ᵗʰ","x":[0,33,36,38,40,42,45,48,52,56,60,65,70,75,79,82,84,87,90,100],"y":[0,0,3.0,9.0,13,11,6.5,4.5,3.6,3.2,2.8,2.4,1.8,1.4,2.6,4.5,5.0,2.5,0,0]},
{"v":"IMAT","s":"M","a":"3ʳᵈ","x":[0,33,36,38,40,42,45,48,52,56,60,65,70,75,79,82,84,87,90,100],"y":[0,0,5.2,15,20,16,8.5,5.3,3.7,3.0,2.4,1.8,1.3,1.0,2.2,4.3,5.0,2.4,0,0]},
{"v":"IMAT","s":"M","a":"4ᵗʰ","x":[0,33,36,38,40,42,45,48,52,56,60,65,70,75,79,82,84,87,90,100],"y":[0,0,4.8,13.8,18.5,14.9,8.1,5.1,3.7,3.0,2.5,1.9,1.4,1.1,2.3,4.5,5.1,2.5,0,0]},
{"v":"IMAT","s":"M","a":"5ᵗʰ","x":[0,33,36,38,40,42,45,48,52,56,60,65,70,75,79,82,84,87,90,100],"y":[0,0,4.3,12.6,17,13.9,7.6,4.9,3.6,3.1,2.6,2.0,1.5,1.2,2.4,4.6,5.2,2.5,0,0]},
{"v":"IMAT","s":"M","a":"6ᵗʰ","x":[0,33,36,38,40,42,45,48,52,56,60,65,70,75,79,82,84,87,90,100],"y":[0,0,3.9,11.4,15.5,12.8,7.2,4.7,3.6,3.1,2.6,2.1,1.6,1.2,2.5,4.8,5.3,2.6,0,0]},
{"v":"IMAT","s":"M","a":"7ᵗʰ","x":[0,33,36,38,40,42,45,48,52,56,60,65,70,75,79,82,84,87,90,100],"y":[0,0,3.4,10.2,14,11.8,6.8,4.5,3.5,3.2,2.7,2.3,1.7,1.3,2.6,4.9,5.4,2.6,0,0]},
{"v":"IMAT","s":"M","a":"8ᵗʰ","x":[0,33,36,38,40,42,45,48,52,56,60,65,70,75,79,82,84,87,90,100],"y":[0,0,3.0,9.0,12.5,10.7,6.4,4.4,3.5,3.2,2.8,2.4,1.8,1.4,2.7,5.0,5.5,2.7,0,0]}
]
},
"vconcat": [
{
 "title": {"text": "A", "anchor": "start", "fontSize": 18, "fontWeight": "bold", "offset": -16, "dx": 15},
 "spacing": 30,
 "resolve": {"scale": {"color": "independent", "x": "independent"}, "legend": {"color": "independent"}},
 "hconcat": [
  {
   "data": {"name": "ridge"},
   "transform": [{"filter": "datum.v=='SAT'"}, {"flatten": ["x", "y"]}],
   "bounds": "flush",
   "spacing": 0,
   "facet": {"row": {"field": "a", "type": "ordinal", "title": "Age decades", "header": {"labelAngle": -90, "labelFontSize": 10, "labelPadding": 2, "titleFontSize": 13, "titleFontWeight": "normal", "titlePadding": 0}}},
   "spec": {
    "width": 120, "height": 28,
    "layer": [
     {"mark": {"type": "area", "interpolate": "monotone", "fillOpacity": 0.78, "stroke": "#333333", "strokeWidth": 0.6},
      "encoding": {
       "x": {"field": "x", "type": "quantitative", "scale": {"domain": [0, 45], "nice": false, "zero": false}, "axis": {"values": [0, 10, 20, 30, 40], "title": "SAT", "domain": false, "ticks": false, "labelFontSize": 12, "labelPadding": 5, "titleFontSize": 11, "titleFontWeight": "normal", "titlePadding": 1}},
       "y": {"field": "y", "type": "quantitative", "stack": null, "scale": {"domain": [0, 1], "nice": false}, "axis": null},
       "color": {"field": "s", "type": "nominal", "scale": {"domain": ["F", "M"], "range": ["#a8c8ec", "#5b8dd1"]}, "legend": {"title": null, "orient": "none", "legendX": 100, "legendY": -38, "symbolType": "square", "symbolSize": 64, "symbolOpacity": 1, "labelFontSize": 12, "rowPadding": 6, "labelOffset": 2}}
      }},
     {"transform": [{"filter": "datum.a=='8ᵗʰ'"}, {"aggregate": [{"op": "count", "as": "n"}], "groupby": ["a"]}],
      "mark": {"type": "text", "text": "L", "align": "left", "baseline": "bottom", "dx": 2, "dy": 3, "fontSize": 12, "color": "#222"},
      "encoding": {"x": {"datum": 45}, "y": {"datum": 0}}}
    ]
   }
  },
  {
   "spacing": 15,
   "resolve": {"scale": {"color": "independent", "x": "independent"}, "legend": {"color": "independent"}},
   "hconcat": [
  {
   "data": {"name": "ridge"},
   "transform": [{"filter": "datum.v=='VAT'"}, {"flatten": ["x", "y"]}],
   "bounds": "flush",
   "spacing": 0,
   "facet": {"row": {"field": "a", "type": "ordinal", "title": null, "header": {"labels": false}}},
   "spec": {
    "width": 114, "height": 28,
    "layer": [
     {"mark": {"type": "area", "interpolate": "monotone", "fillOpacity": 0.78, "stroke": "#333333", "strokeWidth": 0.6},
      "encoding": {
       "x": {"field": "x", "type": "quantitative", "scale": {"domain": [0, 15], "nice": false, "zero": false}, "axis": {"values": [0, 5, 10, 15], "title": "VAT", "domain": false, "ticks": false, "labelFontSize": 12, "labelPadding": 5, "titleFontSize": 11, "titleFontWeight": "normal", "titlePadding": 1}},
       "y": {"field": "y", "type": "quantitative", "stack": null, "scale": {"domain": [0, 1], "nice": false}, "axis": null},
       "color": {"field": "s", "type": "nominal", "scale": {"domain": ["F", "M"], "range": ["#f5b47f", "#e0773a"]}, "legend": {"title": null, "orient": "none", "legendX": 98, "legendY": -38, "symbolType": "square", "symbolSize": 64, "symbolOpacity": 1, "labelFontSize": 12, "rowPadding": 6, "labelOffset": 2}}
      }},
     {"transform": [{"filter": "datum.a=='8ᵗʰ'"}, {"aggregate": [{"op": "count", "as": "n"}], "groupby": ["a"]}],
      "mark": {"type": "text", "text": "L", "align": "left", "baseline": "bottom", "dx": 2, "dy": 3, "fontSize": 12, "color": "#222"},
      "encoding": {"x": {"datum": 15}, "y": {"datum": 0}}}
    ]
   }
  },
  {
   "data": {"name": "ridge"},
   "transform": [{"filter": "datum.v=='SM'"}, {"flatten": ["x", "y"]}],
   "bounds": "flush",
   "spacing": 0,
   "facet": {"row": {"field": "a", "type": "ordinal", "title": null, "header": {"labels": false}}},
   "spec": {
    "width": 125, "height": 28,
    "layer": [
     {"mark": {"type": "area", "interpolate": "monotone", "fillOpacity": 0.78, "stroke": "#333333", "strokeWidth": 0.6},
      "encoding": {
       "x": {"field": "x", "type": "quantitative", "scale": {"domain": [5, 25], "nice": false, "zero": false}, "axis": {"values": [5, 10, 15, 20, 25], "title": "SM", "domain": false, "ticks": false, "labelFontSize": 12, "labelPadding": 5, "titleFontSize": 11, "titleFontWeight": "normal", "titlePadding": 1}},
       "y": {"field": "y", "type": "quantitative", "stack": null, "scale": {"domain": [0, 1], "nice": false}, "axis": null},
       "color": {"field": "s", "type": "nominal", "scale": {"domain": ["F", "M"], "range": ["#acd99a", "#68b15a"]}, "legend": {"title": null, "orient": "none", "legendX": 108, "legendY": -38, "symbolType": "square", "symbolSize": 64, "symbolOpacity": 1, "labelFontSize": 12, "rowPadding": 6, "labelOffset": 2}}
      }},
     {"transform": [{"filter": "datum.a=='8ᵗʰ'"}, {"aggregate": [{"op": "count", "as": "n"}], "groupby": ["a"]}],
      "mark": {"type": "text", "text": "L", "align": "left", "baseline": "bottom", "dx": 2, "dy": 3, "fontSize": 12, "color": "#222"},
      "encoding": {"x": {"datum": 25}, "y": {"datum": 0}}}
    ]
   }
  },
  {
   "data": {"name": "ridge"},
   "transform": [{"filter": "datum.v=='SMFF'"}, {"flatten": ["x", "y"]}],
   "bounds": "flush",
   "spacing": 0,
   "facet": {"row": {"field": "a", "type": "ordinal", "title": null, "header": {"labels": false}}},
   "spec": {
    "width": 125, "height": 28,
    "layer": [
     {"mark": {"type": "area", "interpolate": "monotone", "fillOpacity": 0.78, "stroke": "#333333", "strokeWidth": 0.6},
      "encoding": {
       "x": {"field": "x", "type": "quantitative", "scale": {"domain": [5, 30], "nice": false, "zero": false}, "axis": {"values": [10, 20, 30], "title": "SMFF", "domain": false, "ticks": false, "labelFontSize": 12, "labelPadding": 5, "titleFontSize": 11, "titleFontWeight": "normal", "titlePadding": 1}},
       "y": {"field": "y", "type": "quantitative", "stack": null, "scale": {"domain": [0, 1], "nice": false}, "axis": null},
       "color": {"field": "s", "type": "nominal", "scale": {"domain": ["F", "M"], "range": ["#f3907f", "#d9423c"]}, "legend": {"title": null, "orient": "none", "legendX": 110, "legendY": -38, "symbolType": "square", "symbolSize": 64, "symbolOpacity": 1, "labelFontSize": 12, "rowPadding": 6, "labelOffset": 2}}
      }},
     {"transform": [{"filter": "datum.a=='8ᵗʰ'"}, {"aggregate": [{"op": "count", "as": "n"}], "groupby": ["a"]}],
      "mark": {"type": "text", "text": "%", "align": "left", "baseline": "bottom", "dx": 2, "dy": 3, "fontSize": 12, "color": "#222"},
      "encoding": {"x": {"datum": 30}, "y": {"datum": 0}}}
    ]
   }
  },
  {
   "data": {"name": "ridge"},
   "transform": [{"filter": "datum.v=='IMAT'"}, {"flatten": ["x", "y"]}],
   "bounds": "flush",
   "spacing": 0,
   "facet": {"row": {"field": "a", "type": "ordinal", "title": null, "header": {"labels": false}}},
   "spec": {
    "width": 124, "height": 28,
    "layer": [
     {"mark": {"type": "area", "interpolate": "monotone", "fillOpacity": 0.78, "stroke": "#333333", "strokeWidth": 0.6},
      "encoding": {
       "x": {"field": "x", "type": "quantitative", "scale": {"domain": [0, 4], "nice": false, "zero": false}, "axis": {"values": [0, 1, 2, 3, 4], "title": "IMAT", "domain": false, "ticks": false, "labelFontSize": 12, "labelPadding": 5, "titleFontSize": 11, "titleFontWeight": "normal", "titlePadding": 1}},
       "y": {"field": "y", "type": "quantitative", "stack": null, "scale": {"domain": [0, 1], "nice": false}, "axis": null},
       "color": {"field": "s", "type": "nominal", "scale": {"domain": ["F", "M"], "range": ["#c4c4c4", "#7d7d7d"]}, "legend": {"title": null, "orient": "none", "legendX": 110, "legendY": -38, "symbolType": "square", "symbolSize": 64, "symbolOpacity": 1, "labelFontSize": 12, "rowPadding": 6, "labelOffset": 2}}
      }},
     {"transform": [{"filter": "datum.a=='8ᵗʰ'"}, {"aggregate": [{"op": "count", "as": "n"}], "groupby": ["a"]}],
      "mark": {"type": "text", "text": "dL", "align": "left", "baseline": "bottom", "dx": 2, "dy": 3, "fontSize": 12, "color": "#222"},
      "encoding": {"x": {"datum": 4}, "y": {"datum": 0}}}
    ]
   }
  }
   ]
  }
 ]
},
{
 "title": {"text": "B", "anchor": "start", "fontSize": 18, "fontWeight": "bold", "offset": 0, "dx": 5},
 "spacing": 5,
 "resolve": {"scale": {"color": "independent"}, "legend": {"color": "independent"}},
 "vconcat": [
  {
   "data": {"name": "pie"},
   "transform": [{"filter": "datum.s=='Female'"}],
   "bounds": "flush",
   "spacing": {"row": 0, "column": 70},
   "facet": {
    "row": {"field": "s", "type": "nominal", "title": null, "header": {"labelAngle": -90, "labelFontSize": 12, "labelPadding": 20}},
    "column": {"field": "g", "type": "ordinal", "title": null, "sort": ["20-30y", "30-40y", "40-50y", "50-60y", "60-70y", ">70y"], "header": {"labelFontSize": 13, "labelPadding": 20}}
   },
   "spec": {
    "width": 52, "height": 84,
    "layer": [
     {"mark": {"type": "arc", "outerRadius": 29},
      "encoding": {
       "theta": {"field": "p", "type": "quantitative", "stack": true, "scale": {"domain": [0, 1], "range": [1.5708, 7.854]}},
       "order": {"field": "k", "type": "quantitative"},
       "color": {"field": "c", "type": "nominal", "scale": {"domain": ["SAT (L)", "VAT (L)", "SM (L)", "IMAT (L)"], "range": ["#8fb5e1", "#ee7d31", "#8dc46e", "#a3a3a3"]}, "legend": {"title": null, "symbolType": "square", "symbolSize": 70, "labelFontSize": 12, "rowPadding": 2, "offset": 5}}
      }},
     {"mark": {"type": "text", "radius": 42, "fontSize": 10, "color": "#333"},
      "encoding": {
       "theta": {"field": "p", "type": "quantitative", "stack": true},
       "order": {"field": "k", "type": "quantitative"},
       "detail": {"field": "c", "type": "nominal"},
       "text": {"field": "p", "type": "quantitative", "format": ".1%"}
      }}
    ]
   }
  },
  {
   "data": {"name": "pie"},
   "transform": [{"filter": "datum.s=='Male'"}],
   "bounds": "flush",
   "spacing": {"row": 0, "column": 70},
   "facet": {
    "row": {"field": "s", "type": "nominal", "title": null, "header": {"labelAngle": -90, "labelFontSize": 12, "labelPadding": 20}},
    "column": {"field": "g", "type": "ordinal", "title": null, "sort": ["20-30y", "30-40y", "40-50y", "50-60y", "60-70y", ">70y"], "header": {"labels": false}}
   },
   "spec": {
    "width": 52, "height": 84,
    "layer": [
     {"mark": {"type": "arc", "outerRadius": 29},
      "encoding": {
       "theta": {"field": "p", "type": "quantitative", "stack": true, "scale": {"domain": [0, 1], "range": [1.5708, 7.854]}},
       "order": {"field": "k", "type": "quantitative"},
       "color": {"field": "c", "type": "nominal", "scale": {"domain": ["SAT (L)", "VAT (L)", "SM (L)", "IMAT (L)"], "range": ["#4377c6", "#d5501a", "#4e9a43", "#555555"]}, "legend": {"title": null, "symbolType": "square", "symbolSize": 70, "labelFontSize": 12, "rowPadding": 2, "offset": 5}}
      }},
     {"mark": {"type": "text", "radius": 42, "fontSize": 10, "color": "#333"},
      "encoding": {
       "theta": {"field": "p", "type": "quantitative", "stack": true},
       "order": {"field": "k", "type": "quantitative"},
       "detail": {"field": "c", "type": "nominal"},
       "text": {"field": "p", "type": "quantitative", "format": ".1%"}
      }}
    ]
   }
  }
 ]
},
{
 "title": {"text": "C", "anchor": "start", "fontSize": 18, "fontWeight": "bold", "offset": 0, "dx": 5},
 "spacing": 10,
 "resolve": {"scale": {"color": "independent", "stroke": "independent", "x": "independent", "y": "independent"}, "legend": {"color": "independent"}},
 "vconcat": [
  {
   "title": {"text": "Female", "orient": "left", "fontSize": 12, "fontWeight": "normal", "anchor": "middle", "offset": 13},
   "spacing": 4,
   "resolve": {"scale": {"color": "independent", "stroke": "independent", "x": "independent", "y": "independent"}, "legend": {"color": "independent"}},
   "hconcat": [
    {"data": {"name": "sect"}, "transform": [{"filter": "datum.v=='SAT' && datum.s=='F'"}, {"flatten": ["x", "y"]}],
     "title": {"text": "SAT per section", "fontSize": 13, "fontWeight": "normal", "offset": 0},
     "width": 124, "height": 84,
     "layer": [
      {"mark": {"type": "square", "opacity": 0, "size": 20},
       "encoding": {
        "x": {"field": "x", "type": "quantitative", "scale": {"domain": [-4, 104], "nice": false}, "axis": {"values": [17, 37, 56, 87], "labelExpr": "datum.value==17?'IT':datum.value==37?'L5':datum.value==56?'T12':'T1'", "title": ["body", "axis"], "titleX": 128, "titleY": 1, "titleAlign": "left", "titleBaseline": "top", "titleFontSize": 9, "titleFontWeight": "normal", "titleLineHeight": 10, "labelFontSize": 9, "tickSize": 3, "labelPadding": 2}},
        "y": {"field": "y", "type": "quantitative", "scale": {"domain": [0, 5.7], "nice": false}, "axis": {"values": [0, 2, 4], "labelOverlap": false, "labelSeparation": 0, "title": "%", "titleAngle": 0, "titleX": -2, "titleY": 0, "titleAlign": "center", "titleBaseline": "middle", "titleFontSize": 12, "titleFontWeight": "normal", "labelFontSize": 11, "tickSize": 3, "labelPadding": 2}},
        "color": {"field": "a", "type": "ordinal", "scale": {"range": ["#dce8f6", "#bcd3ee", "#9dbfe6", "#7aa7dc", "#5589cc", "#2f66b8"]}, "legend": {"title": ["Age", "decade"], "orient": "none", "legendX": 139, "legendY": -14, "titleFontSize": 9, "titleFontWeight": "normal", "titlePadding": 2, "labelFontSize": 9, "symbolType": "square", "symbolSize": 45, "symbolOpacity": 1, "symbolStrokeWidth": 0, "rowPadding": 1.5, "padding": 0, "labelOffset": 3}}
       }},
      {"mark": {"type": "line", "strokeWidth": 5, "interpolate": "monotone", "strokeCap": "round", "strokeJoin": "round"},
       "encoding": {
        "x": {"field": "x", "type": "quantitative"},
        "y": {"field": "y", "type": "quantitative"},
        "stroke": {"field": "a", "type": "ordinal", "scale": {"range": ["#dce8f6", "#bcd3ee", "#9dbfe6", "#7aa7dc", "#5589cc", "#2f66b8"]}, "legend": null}
       }}
     ]},
    {"data": {"name": "sect"}, "transform": [{"filter": "datum.v=='VAT' && datum.s=='F'"}, {"flatten": ["x", "y"]}],
     "title": {"text": "VAT per section", "fontSize": 13, "fontWeight": "normal", "offset": 0},
     "width": 124, "height": 84,
     "layer": [
      {"mark": {"type": "square", "opacity": 0, "size": 20},
       "encoding": {
        "x": {"field": "x", "type": "quantitative", "scale": {"domain": [-4, 104], "nice": false}, "axis": {"values": [17, 37, 56, 87], "labelExpr": "datum.value==17?'IT':datum.value==37?'L5':datum.value==56?'T12':'T1'", "title": ["body", "axis"], "titleX": 128, "titleY": 1, "titleAlign": "left", "titleBaseline": "top", "titleFontSize": 9, "titleFontWeight": "normal", "titleLineHeight": 10, "labelFontSize": 9, "tickSize": 3, "labelPadding": 2}},
        "y": {"field": "y", "type": "quantitative", "scale": {"domain": [0, 9.5], "nice": false}, "axis": {"values": [0, 2.5, 5, 7.5], "labelOverlap": false, "labelSeparation": 0, "format": ".1f", "title": "%", "titleAngle": 0, "titleX": -2, "titleY": 0, "titleAlign": "center", "titleBaseline": "middle", "titleFontSize": 12, "titleFontWeight": "normal", "labelFontSize": 11, "tickSize": 3, "labelPadding": 2}},
        "color": {"field": "a", "type": "ordinal", "scale": {"range": ["#fce3cc", "#f9c99c", "#f5ad6e", "#ef8c42", "#de6a1f", "#c0500f"]}, "legend": {"title": ["Age", "decade"], "orient": "none", "legendX": 139, "legendY": -14, "titleFontSize": 9, "titleFontWeight": "normal", "titlePadding": 2, "labelFontSize": 9, "symbolType": "square", "symbolSize": 45, "symbolOpacity": 1, "symbolStrokeWidth": 0, "rowPadding": 1.5, "padding": 0, "labelOffset": 3}}
       }},
      {"mark": {"type": "line", "strokeWidth": 5, "interpolate": "monotone", "strokeCap": "round", "strokeJoin": "round"},
       "encoding": {
        "x": {"field": "x", "type": "quantitative"},
        "y": {"field": "y", "type": "quantitative"},
        "stroke": {"field": "a", "type": "ordinal", "scale": {"range": ["#fce3cc", "#f9c99c", "#f5ad6e", "#ef8c42", "#de6a1f", "#c0500f"]}, "legend": null}
       }}
     ]},
    {"data": {"name": "sect"}, "transform": [{"filter": "datum.v=='SM' && datum.s=='F'"}, {"flatten": ["x", "y"]}],
     "title": {"text": "SM per section", "fontSize": 13, "fontWeight": "normal", "offset": 0},
     "width": 124, "height": 84,
     "layer": [
      {"mark": {"type": "square", "opacity": 0, "size": 20},
       "encoding": {
        "x": {"field": "x", "type": "quantitative", "scale": {"domain": [-4, 104], "nice": false}, "axis": {"values": [17, 37, 56, 87], "labelExpr": "datum.value==17?'IT':datum.value==37?'L5':datum.value==56?'T12':'T1'", "title": ["body", "axis"], "titleX": 128, "titleY": 1, "titleAlign": "left", "titleBaseline": "top", "titleFontSize": 9, "titleFontWeight": "normal", "titleLineHeight": 10, "labelFontSize": 9, "tickSize": 3, "labelPadding": 2}},
        "y": {"field": "y", "type": "quantitative", "scale": {"domain": [0, 5.1], "nice": false}, "axis": {"values": [0, 1, 2, 3, 4, 5], "labelOverlap": false, "labelSeparation": 0, "title": "%", "titleAngle": 0, "titleX": -2, "titleY": 0, "titleAlign": "center", "titleBaseline": "middle", "titleFontSize": 12, "titleFontWeight": "normal", "labelFontSize": 11, "tickSize": 3, "labelPadding": 2}},
        "color": {"field": "a", "type": "ordinal", "scale": {"range": ["#d6edc9", "#b8e0a4", "#98d080", "#76bb60", "#52a043", "#2f7f2a"]}, "legend": {"title": ["Age", "decade"], "orient": "none", "legendX": 139, "legendY": -14, "titleFontSize": 9, "titleFontWeight": "normal", "titlePadding": 2, "labelFontSize": 9, "symbolType": "square", "symbolSize": 45, "symbolOpacity": 1, "symbolStrokeWidth": 0, "rowPadding": 1.5, "padding": 0, "labelOffset": 3}}
       }},
      {"mark": {"type": "line", "strokeWidth": 5, "interpolate": "monotone", "strokeCap": "round", "strokeJoin": "round"},
       "encoding": {
        "x": {"field": "x", "type": "quantitative"},
        "y": {"field": "y", "type": "quantitative"},
        "stroke": {"field": "a", "type": "ordinal", "scale": {"range": ["#d6edc9", "#b8e0a4", "#98d080", "#76bb60", "#52a043", "#2f7f2a"]}, "legend": null}
       }}
     ]},
    {"data": {"name": "sect"}, "transform": [{"filter": "datum.v=='IMAT' && datum.s=='F'"}, {"flatten": ["x", "y"]}],
     "title": {"text": "IMAT per section", "fontSize": 13, "fontWeight": "normal", "offset": 0},
     "width": 124, "height": 84,
     "layer": [
      {"mark": {"type": "square", "opacity": 0, "size": 20},
       "encoding": {
        "x": {"field": "x", "type": "quantitative", "scale": {"domain": [-4, 104], "nice": false}, "axis": {"values": [17, 37, 56, 87], "labelExpr": "datum.value==17?'IT':datum.value==37?'L5':datum.value==56?'T12':'T1'", "title": ["body", "axis"], "titleX": 128, "titleY": 1, "titleAlign": "left", "titleBaseline": "top", "titleFontSize": 9, "titleFontWeight": "normal", "titleLineHeight": 10, "labelFontSize": 9, "tickSize": 3, "labelPadding": 2}},
        "y": {"field": "y", "type": "quantitative", "scale": {"domain": [0, 26], "nice": false}, "axis": {"values": [0, 5, 10, 15, 20, 25], "labelOverlap": false, "labelSeparation": 0, "title": "%", "titleAngle": 0, "titleX": -2, "titleY": 0, "titleAlign": "center", "titleBaseline": "middle", "titleFontSize": 12, "titleFontWeight": "normal", "labelFontSize": 11, "tickSize": 3, "labelPadding": 2}},
        "color": {"field": "a", "type": "ordinal", "scale": {"range": ["#ececec", "#d4d4d4", "#b8b8b8", "#999999", "#777777", "#4d4d4d"]}, "legend": {"title": ["Age", "decade"], "orient": "none", "legendX": 139, "legendY": -14, "titleFontSize": 9, "titleFontWeight": "normal", "titlePadding": 2, "labelFontSize": 9, "symbolType": "square", "symbolSize": 45, "symbolOpacity": 1, "symbolStrokeWidth": 0, "rowPadding": 1.5, "padding": 0, "labelOffset": 3}}
       }},
      {"mark": {"type": "line", "strokeWidth": 5, "interpolate": "monotone", "strokeCap": "round", "strokeJoin": "round"},
       "encoding": {
        "x": {"field": "x", "type": "quantitative"},
        "y": {"field": "y", "type": "quantitative"},
        "stroke": {"field": "a", "type": "ordinal", "scale": {"range": ["#ececec", "#d4d4d4", "#b8b8b8", "#999999", "#777777", "#4d4d4d"]}, "legend": null}
       }}
     ]}
   ]
  },
  {
   "title": {"text": "Male", "orient": "left", "fontSize": 12, "fontWeight": "normal", "anchor": "middle", "offset": 13},
   "spacing": 4,
   "resolve": {"scale": {"color": "independent", "stroke": "independent", "x": "independent", "y": "independent"}, "legend": {"color": "independent"}},
   "hconcat": [
    {"data": {"name": "sect"}, "transform": [{"filter": "datum.v=='SAT' && datum.s=='M'"}, {"flatten": ["x", "y"]}],
     "width": 124, "height": 84,
     "layer": [
      {"mark": {"type": "square", "opacity": 0, "size": 20},
       "encoding": {
        "x": {"field": "x", "type": "quantitative", "scale": {"domain": [-4, 104], "nice": false}, "axis": {"values": [17, 37, 56, 87], "labelExpr": "datum.value==17?'IT':datum.value==37?'L5':datum.value==56?'T12':'T1'", "title": ["body", "axis"], "titleX": 128, "titleY": 1, "titleAlign": "left", "titleBaseline": "top", "titleFontSize": 9, "titleFontWeight": "normal", "titleLineHeight": 10, "labelFontSize": 9, "tickSize": 3, "labelPadding": 2}},
        "y": {"field": "y", "type": "quantitative", "scale": {"domain": [0, 5.7], "nice": false}, "axis": {"values": [0, 2, 4], "labelOverlap": false, "labelSeparation": 0, "title": "%", "titleAngle": 0, "titleX": -2, "titleY": 0, "titleAlign": "center", "titleBaseline": "middle", "titleFontSize": 12, "titleFontWeight": "normal", "labelFontSize": 11, "tickSize": 3, "labelPadding": 2}},
        "color": {"field": "a", "type": "ordinal", "scale": {"range": ["#d2e1f3", "#aecaea", "#88b0df", "#5f91d1", "#3a70c0", "#1c4ca3"]}, "legend": {"title": null, "orient": "none", "legendX": 139, "legendY": 2, "labelFontSize": 9, "symbolType": "square", "symbolSize": 45, "symbolOpacity": 1, "symbolStrokeWidth": 0, "rowPadding": 1.5, "padding": 0, "labelOffset": 3}}
       }},
      {"mark": {"type": "line", "strokeWidth": 5, "interpolate": "monotone", "strokeCap": "round", "strokeJoin": "round"},
       "encoding": {
        "x": {"field": "x", "type": "quantitative"},
        "y": {"field": "y", "type": "quantitative"},
        "stroke": {"field": "a", "type": "ordinal", "scale": {"range": ["#d2e1f3", "#aecaea", "#88b0df", "#5f91d1", "#3a70c0", "#1c4ca3"]}, "legend": null}
       }}
     ]},
    {"data": {"name": "sect"}, "transform": [{"filter": "datum.v=='VAT' && datum.s=='M'"}, {"flatten": ["x", "y"]}],
     "width": 124, "height": 84,
     "layer": [
      {"mark": {"type": "square", "opacity": 0, "size": 20},
       "encoding": {
        "x": {"field": "x", "type": "quantitative", "scale": {"domain": [-4, 104], "nice": false}, "axis": {"values": [17, 37, 56, 87], "labelExpr": "datum.value==17?'IT':datum.value==37?'L5':datum.value==56?'T12':'T1'", "title": ["body", "axis"], "titleX": 128, "titleY": 1, "titleAlign": "left", "titleBaseline": "top", "titleFontSize": 9, "titleFontWeight": "normal", "titleLineHeight": 10, "labelFontSize": 9, "tickSize": 3, "labelPadding": 2}},
        "y": {"field": "y", "type": "quantitative", "scale": {"domain": [0, 9.5], "nice": false}, "axis": {"values": [0, 2.5, 5, 7.5], "labelOverlap": false, "labelSeparation": 0, "format": ".1f", "title": "%", "titleAngle": 0, "titleX": -2, "titleY": 0, "titleAlign": "center", "titleBaseline": "middle", "titleFontSize": 12, "titleFontWeight": "normal", "labelFontSize": 11, "tickSize": 3, "labelPadding": 2}},
        "color": {"field": "a", "type": "ordinal", "scale": {"range": ["#fbdcbc", "#f6bc84", "#f09a52", "#e0752a", "#c05614", "#923d0a"]}, "legend": {"title": null, "orient": "none", "legendX": 139, "legendY": 2, "labelFontSize": 9, "symbolType": "square", "symbolSize": 45, "symbolOpacity": 1, "symbolStrokeWidth": 0, "rowPadding": 1.5, "padding": 0, "labelOffset": 3}}
       }},
      {"mark": {"type": "line", "strokeWidth": 5, "interpolate": "monotone", "strokeCap": "round", "strokeJoin": "round"},
       "encoding": {
        "x": {"field": "x", "type": "quantitative"},
        "y": {"field": "y", "type": "quantitative"},
        "stroke": {"field": "a", "type": "ordinal", "scale": {"range": ["#fbdcbc", "#f6bc84", "#f09a52", "#e0752a", "#c05614", "#923d0a"]}, "legend": null}
       }}
     ]},
    {"data": {"name": "sect"}, "transform": [{"filter": "datum.v=='SM' && datum.s=='M'"}, {"flatten": ["x", "y"]}],
     "width": 124, "height": 84,
     "layer": [
      {"mark": {"type": "square", "opacity": 0, "size": 20},
       "encoding": {
        "x": {"field": "x", "type": "quantitative", "scale": {"domain": [-4, 104], "nice": false}, "axis": {"values": [17, 37, 56, 87], "labelExpr": "datum.value==17?'IT':datum.value==37?'L5':datum.value==56?'T12':'T1'", "title": ["body", "axis"], "titleX": 128, "titleY": 1, "titleAlign": "left", "titleBaseline": "top", "titleFontSize": 9, "titleFontWeight": "normal", "titleLineHeight": 10, "labelFontSize": 9, "tickSize": 3, "labelPadding": 2}},
        "y": {"field": "y", "type": "quantitative", "scale": {"domain": [0, 5.1], "nice": false}, "axis": {"values": [0, 1, 2, 3, 4, 5], "labelOverlap": false, "labelSeparation": 0, "title": "%", "titleAngle": 0, "titleX": -2, "titleY": 0, "titleAlign": "center", "titleBaseline": "middle", "titleFontSize": 12, "titleFontWeight": "normal", "labelFontSize": 11, "tickSize": 3, "labelPadding": 2}},
        "color": {"field": "a", "type": "ordinal", "scale": {"range": ["#cfe9c0", "#acd896", "#86c46e", "#5fa94c", "#3b8a31", "#1f6a1c"]}, "legend": {"title": null, "orient": "none", "legendX": 139, "legendY": 2, "labelFontSize": 9, "symbolType": "square", "symbolSize": 45, "symbolOpacity": 1, "symbolStrokeWidth": 0, "rowPadding": 1.5, "padding": 0, "labelOffset": 3}}
       }},
      {"mark": {"type": "line", "strokeWidth": 5, "interpolate": "monotone", "strokeCap": "round", "strokeJoin": "round"},
       "encoding": {
        "x": {"field": "x", "type": "quantitative"},
        "y": {"field": "y", "type": "quantitative"},
        "stroke": {"field": "a", "type": "ordinal", "scale": {"range": ["#cfe9c0", "#acd896", "#86c46e", "#5fa94c", "#3b8a31", "#1f6a1c"]}, "legend": null}
       }}
     ]},
    {"data": {"name": "sect"}, "transform": [{"filter": "datum.v=='IMAT' && datum.s=='M'"}, {"flatten": ["x", "y"]}],
     "width": 124, "height": 84,
     "layer": [
      {"mark": {"type": "square", "opacity": 0, "size": 20},
       "encoding": {
        "x": {"field": "x", "type": "quantitative", "scale": {"domain": [-4, 104], "nice": false}, "axis": {"values": [17, 37, 56, 87], "labelExpr": "datum.value==17?'IT':datum.value==37?'L5':datum.value==56?'T12':'T1'", "title": ["body", "axis"], "titleX": 128, "titleY": 1, "titleAlign": "left", "titleBaseline": "top", "titleFontSize": 9, "titleFontWeight": "normal", "titleLineHeight": 10, "labelFontSize": 9, "tickSize": 3, "labelPadding": 2}},
        "y": {"field": "y", "type": "quantitative", "scale": {"domain": [0, 26], "nice": false}, "axis": {"values": [0, 5, 10, 15, 20, 25], "labelOverlap": false, "labelSeparation": 0, "title": "%", "titleAngle": 0, "titleX": -2, "titleY": 0, "titleAlign": "center", "titleBaseline": "middle", "titleFontSize": 12, "titleFontWeight": "normal", "labelFontSize": 11, "tickSize": 3, "labelPadding": 2}},
        "color": {"field": "a", "type": "ordinal", "scale": {"range": ["#e0e0e0", "#c2c2c2", "#a0a0a0", "#7c7c7c", "#505050", "#1c1c1c"]}, "legend": {"title": null, "orient": "none", "legendX": 139, "legendY": 2, "labelFontSize": 9, "symbolType": "square", "symbolSize": 45, "symbolOpacity": 1, "symbolStrokeWidth": 0, "rowPadding": 1.5, "padding": 0, "labelOffset": 3}}
       }},
      {"mark": {"type": "line", "strokeWidth": 5, "interpolate": "monotone", "strokeCap": "round", "strokeJoin": "round"},
       "encoding": {
        "x": {"field": "x", "type": "quantitative"},
        "y": {"field": "y", "type": "quantitative"},
        "stroke": {"field": "a", "type": "ordinal", "scale": {"range": ["#e0e0e0", "#c2c2c2", "#a0a0a0", "#7c7c7c", "#505050", "#1c1c1c"]}, "legend": null}
       }}
     ]}
   ]
  }
 ]
}
]
}
